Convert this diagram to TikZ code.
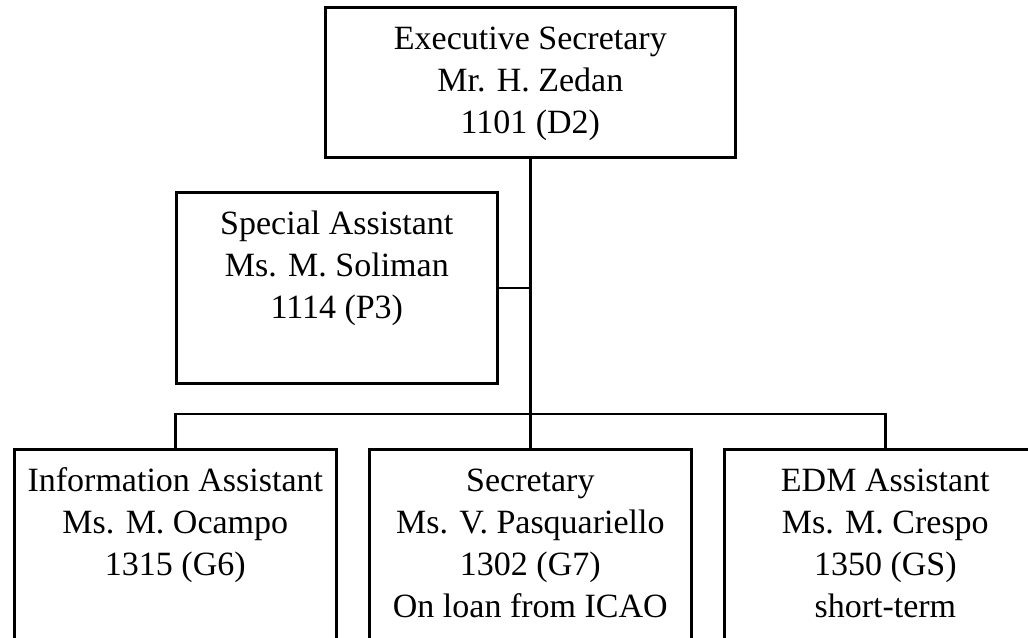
\documentclass[tikz,border=0pt]{standalone}
\usepackage{fontspec}
\setmainfont{Liberation Serif}
\newdimen\pxu
\pxu=0.75pt
\newcommand\boxtext[3]{\parbox[t][#2\pxu][t]{#1\pxu}{\centering\vspace*{13\pxu}\strut #3}}
\tikzset{
  orgbox/.style={draw, line width=2pt, inner sep=0pt, anchor=north west,
    font=\fontsize{25.5}{31.5}\selectfont},
  link/.style={line width=2pt}
}
\begin{document}
\begin{tikzpicture}[x=0.75pt,y=-0.75pt]
\useasboundingbox (0,0) rectangle (1028,637);
\clip (0,0) rectangle (1028,637);
\node[orgbox] (top) at (324,6) {\boxtext{410}{150}{Executive Secretary\\ Mr. H. Zedan\\ 1101 (D2)}};
\node[orgbox] (spec) at (175,191) {\boxtext{321}{191}{Special Assistant\\ Ms. M. Soliman\\ 1114 (P3)}};
\node[orgbox] (info) at (13,448) {\boxtext{322}{230}{Information Assistant\\ Ms. M. Ocampo\\ 1315 (G6)}};
\node[orgbox] (sec) at (368,448) {\boxtext{322}{230}{Secretary\\ Ms. V. Pasquariello\\ 1302 (G7)\\ On loan from ICAO}};
\node[orgbox] (edm) at (723,448) {\boxtext{322}{230}{EDM Assistant\\ Ms. M. Crespo\\ 1350 (GS)\\ short-term}};
\coordinate (bus) at (529,414);
\draw[link] (top.south) -- (sec.north);
\draw[link] (spec.east) -- (spec.east -| top.south);
\draw[link] (info.north) |- (bus) -| (edm.north);
\end{tikzpicture}
\end{document}
